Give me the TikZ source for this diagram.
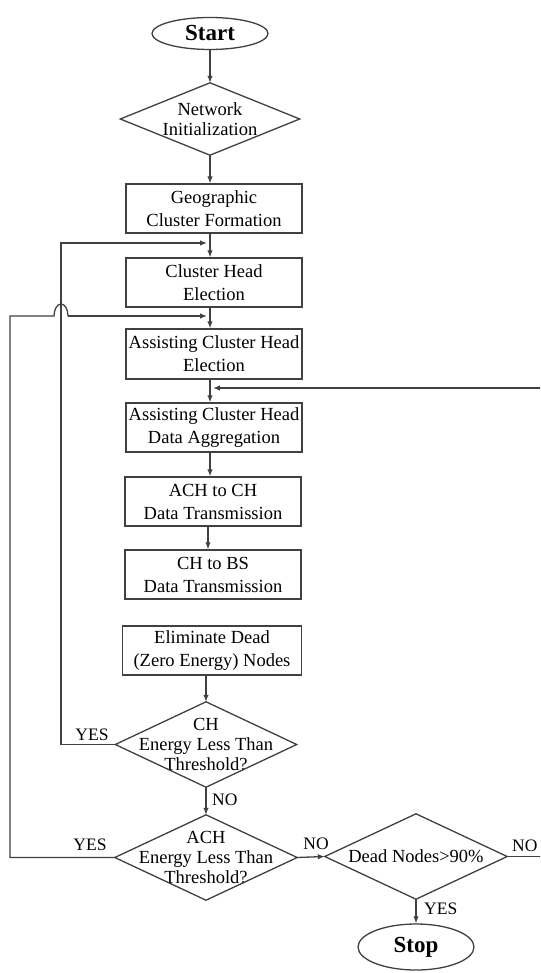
\documentclass[tikz,border=0pt]{standalone}
\usepackage{fontspec}
\setmainfont{Liberation Serif}
\usetikzlibrary{arrows.meta,shapes.geometric}
\begin{document}
\begin{tikzpicture}[x=1pt,y=-1pt,
  ln/.style={draw=black!75, line width=1.3pt},
  arr/.style={ln, -{Latex[length=7pt,width=5.5pt]}},
  boxn/.style={draw=black!75, line width=1.3pt, minimum width=176pt, minimum height=49pt,
    inner sep=0pt, align=center, font=\fontsize{18.5}{23}\selectfont, text=black},
  dnode/.style={inner sep=0pt, align=center, font=\fontsize{18.5}{20}\selectfont, text=black},
  term/.style={draw=black!75, line width=1.3pt, ellipse, inner sep=0pt, minimum width=116pt,
    font=\fontsize{23}{26}\selectfont\bfseries, text=black},
  lab/.style={inner sep=0pt, font=\fontsize{17.5}{20}\selectfont, text=black}]
\path[use as bounding box] (0,0) rectangle (540,973);
\clip (0,0) rectangle (540,973);
\fill[white] (0,0) rectangle (540,973);

% terminals
\node[term, minimum height=32pt] (start) at (210,33.5) {Start};
\node[term, minimum height=46pt] (stop) at (416,947) {Stop};

% diamonds
\node[dnode, minimum width=179pt, minimum height=72pt] (net) at (210,119) {Network\\Initialization};
\node[dnode, minimum width=181pt, minimum height=85pt] (chd) at (206,744.5) {CH\\Energy Less Than\\Threshold?};
\node[dnode, minimum width=182pt, minimum height=85pt] (achd) at (206,857.5) {ACH\\Energy Less Than\\Threshold?};
\node[dnode, minimum width=182pt, minimum height=85pt] (dead) at (416,856.5) {Dead Nodes>90\%};
\foreach \d in {net,chd,achd,dead}
  \draw[ln, line join=miter] (\d.north) -- (\d.east) -- (\d.south) -- (\d.west) -- cycle;

% process boxes
\node[boxn] (geo) at (214,208.5) {Geographic\\Cluster Formation};
\node[boxn] (che) at (214,282.5) {Cluster Head\\Election};
\node[boxn, minimum height=50pt] (ache) at (214,354) {Assisting Cluster Head\\Election};
\node[boxn] (acha) at (214,427.5) {Assisting Cluster Head\\Data Aggregation};
\node[boxn] (achch) at (213,501.5) {ACH to CH\\Data Transmission};
\node[boxn] (chbs) at (213,574.5) {CH to BS\\Data Transmission};
\node[boxn, minimum width=179pt] (elim) at (212,650.5) {Eliminate Dead\\(Zero Energy) Nodes};

% main flow
\draw[arr] (start) -- (net);
\draw[arr] (net.south) -- (net.south |- geo.north);
\draw[arr] (net.south |- geo.south) -- (net.south |- che.north);
\draw[arr] (net.south |- che.south) -- (net.south |- ache.north);
\draw[arr] (net.south |- ache.south) -- (net.south |- acha.north);
\draw[arr] (net.south |- acha.south) -- (net.south |- achch.north);
\draw[arr] ([xshift=-2pt]net.south |- achch.south) -- ([xshift=-2pt]net.south |- chbs.north);
\draw[arr] (chd.north |- elim.south) -- (chd.north);
\draw[arr] (chd.south) -- (achd.north);
\draw[arr] (achd.east) -- (dead.west);
\draw[arr] (dead.south) -- (stop.north);

% loop 1 (CH energy YES)
\coordinate (k1) at (61,243);
\coordinate (t1) at (207,243);
\draw[arr] (chd.west) -| (k1) -- (t1);

% loop 2 (ACH energy YES) with hop
\coordinate (k2) at (10,316);
\coordinate (h1) at (54,316);
\coordinate (h2) at (68,316);
\coordinate (t2) at (207,316);
\draw[ln] (achd.west) -| (k2) -- (h1) arc[start angle=180, end angle=0, x radius=7pt, y radius=12pt];
\draw[arr] (h2) -- (t2);

% right loop (Dead nodes NO)
\coordinate (r1) at (541,388);
\coordinate (t3) at (213,388);
\draw[arr] (r1) -- (t3);
\coordinate (r2) at (541,856.5);
\draw[ln] (dead.east) -- (r2);

% labels
\node[lab] (yes1) at (92,735) {YES};
\node[lab] (yes2) at (90,845) {YES};
\node[lab, anchor=west] (no1) at (212,800) {NO};
\node[lab] (no2) at (316,844) {NO};
\node[lab, anchor=west] (no3) at (512,846) {NO};
\node[lab, anchor=west] (yes3) at (424,909) {YES};
\end{tikzpicture}
\end{document}
